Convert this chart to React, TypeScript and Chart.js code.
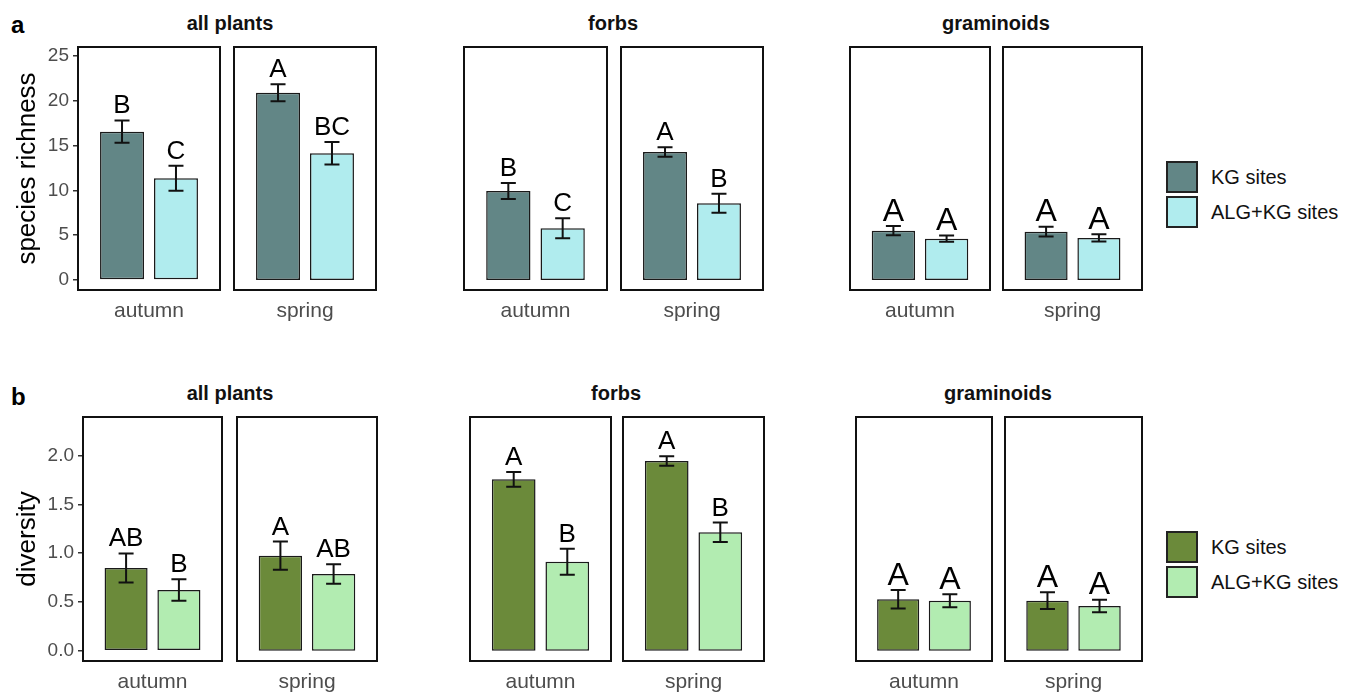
import React, { useEffect, useRef } from 'react';
import { Chart, registerables } from 'chart.js';

Chart.register(...registerables);
Chart.defaults.font.family = '"Liberation Sans", Arial, sans-serif';

// ---------------- data ----------------
const groups = ['all plants', 'forbs', 'graminoids'];
const seasons = ['autumn', 'spring'];
const siteTypes = ['KG sites', 'ALG+KG sites'];

// order: all-autumn, all-spring, forbs-autumn, forbs-spring, graminoids-autumn, graminoids-spring
const richnessKG = [16.55, 20.9, 9.93, 14.29, 5.5, 5.39];
const richnessKGse = [1.25, 0.95, 0.9, 0.53, 0.52, 0.54];
const richnessALG = [11.35, 14.15, 5.77, 8.56, 4.61, 4.69];
const richnessALGse = [1.4, 1.25, 1.12, 1.05, 0.35, 0.41];
const richnessKGLetters = ['B', 'A', 'B', 'A', 'A', 'A'];
const richnessALGLetters = ['C', 'BC', 'C', 'B', 'A', 'A'];
const richnessTicks = [0, 5, 10, 15, 20, 25];
const richnessTickLabels = ['0', '5', '10', '15', '20', '25'];

const diversityKG = [0.848, 0.974, 1.758, 1.946, 0.527, 0.513];
const diversityKGse = [0.15, 0.145, 0.076, 0.048, 0.095, 0.085];
const diversityALG = [0.623, 0.787, 0.913, 1.214, 0.513, 0.458];
const diversityALGse = [0.11, 0.1, 0.133, 0.1, 0.067, 0.065];
const diversityKGLetters = ['AB', 'A', 'A', 'A', 'A', 'A'];
const diversityALGLetters = ['B', 'AB', 'B', 'B', 'A', 'A'];
const diversityTicks = [0, 0.5, 1, 1.5, 2];
const diversityTickLabels = ['0.0', '0.5', '1.0', '1.5', '2.0'];

// ---------------- layout / style ----------------
const FONT = '"Liberation Sans", Arial, sans-serif';
const PAD = 4;
const XH = 45;

type RowCfg = {
  tag: string;
  tagY: number;
  yTitle: string;
  kg: number[]; kgSe: number[]; alg: number[]; algSe: number[];
  kgL: string[]; algL: string[];
  ticks: number[]; tickLabels: string[];
  min: number; max: number;
  top: number; bottom: number;
  boxes: number[][];
  titleY: number; titleX: number[];
  colors: string[];
  legendTop: number;
};

const rows: RowCfg[] = [
  {
    tag: 'a', tagY: 25, yTitle: 'species richness',
    kg: richnessKG, kgSe: richnessKGse, alg: richnessALG, algSe: richnessALGse,
    kgL: richnessKGLetters, algL: richnessALGLetters,
    ticks: richnessTicks, tickLabels: richnessTickLabels,
    min: -1.12, max: 26.0, top: 47, bottom: 290,
    boxes: [[78, 220], [234, 376], [464, 607], [621, 763], [850, 990], [1003, 1142]],
    titleY: 23, titleX: [230, 613, 996],
    colors: ['#628686', '#b0ecee'],
    legendTop: 161,
  },
  {
    tag: 'b', tagY: 397, yTitle: 'diversity',
    kg: diversityKG, kgSe: diversityKGse, alg: diversityALG, algSe: diversityALGse,
    kgL: diversityKGLetters, algL: diversityALGLetters,
    ticks: diversityTicks, tickLabels: diversityTickLabels,
    min: -0.106, max: 2.397, top: 417, bottom: 661,
    boxes: [[83, 222], [237, 377], [470, 611], [623, 764], [856, 992], [1005, 1142]],
    titleY: 393, titleX: [230, 616, 998],
    colors: ['#6b8a3a', '#b2ecb1'],
    legendTop: 531,
  },
];

const decorPlugin = {
  id: 'panelDecor',
  afterDatasetsDraw(chart: any, _args: any, opts: any) {
    const { ctx, chartArea, scales } = chart;
    const y = scales.y;
    ctx.save();
    chart.data.datasets.forEach((ds: any, di: number) => {
      const meta = chart.getDatasetMeta(di);
      meta.data.forEach((bar: any, j: number) => {
        const v = ds.data[j];
        const se = opts.se[di][j];
        const yT = y.getPixelForValue(v + se);
        const yB = y.getPixelForValue(v - se);
        const x = bar.x;
        ctx.strokeStyle = '#111';
        ctx.lineWidth = 2;
        ctx.beginPath();
        ctx.moveTo(x, yT); ctx.lineTo(x, yB);
        ctx.moveTo(x - 7.5, yT); ctx.lineTo(x + 7.5, yT);
        ctx.moveTo(x - 7.5, yB); ctx.lineTo(x + 7.5, yB);
        ctx.stroke();
        ctx.fillStyle = '#000';
        ctx.font = `${opts.letterSize}px ${FONT}`;
        ctx.textAlign = 'center';
        ctx.textBaseline = 'alphabetic';
        ctx.fillText(opts.letters[di][j], x, yT - opts.gap);
      });
    });
    ctx.strokeStyle = '#111';
    ctx.lineWidth = 2;
    ctx.strokeRect(chartArea.left, chartArea.top, chartArea.right - chartArea.left, chartArea.bottom - chartArea.top);
    ctx.restore();
  },
};

function zeroPad(s: any) {
  s.paddingTop = 0;
  s.paddingBottom = 0;
  s.paddingLeft = 0;
  s.paddingRight = 0;
}

function Panel({ row, i }: { row: RowCfg; i: number }) {
  const ref = useRef<HTMLCanvasElement | null>(null);
  const [x0, x1] = row.boxes[i];
  const first = i === 0;
  const left = first ? 0 : x0 - PAD;
  const top = row.top - PAD;
  const width = x1 + PAD - left;
  const height = row.bottom - row.top + PAD + XH;
  const isGram = i >= 4;

  useEffect(() => {
    if (!ref.current) return;
    const chart = new Chart(ref.current, {
      type: 'bar',
      data: {
        labels: [seasons[i % 2]],
        datasets: [
          {
            label: siteTypes[0], data: [row.kg[i]], backgroundColor: row.colors[0],
            borderColor: '#1a1a1a', borderWidth: 1.5, borderSkipped: false,
            categoryPercentage: 0.76, barPercentage: 0.815,
          },
          {
            label: siteTypes[1], data: [row.alg[i]], backgroundColor: row.colors[1],
            borderColor: '#1a1a1a', borderWidth: 1.5, borderSkipped: false,
            categoryPercentage: 0.76, barPercentage: 0.815,
          },
        ],
      },
      options: {
        responsive: false,
        animation: false,
        layout: { autoPadding: false, padding: { left: first ? 0 : PAD, top: PAD, right: PAD, bottom: 0 } },
        plugins: {
          legend: { display: false },
          tooltip: { enabled: false },
          panelDecor: {
            se: [[row.kgSe[i]], [row.algSe[i]]],
            letters: [[row.kgL[i]], [row.algL[i]]],
            letterSize: isGram ? 32 : 26,
            gap: isGram ? 5.5 : 7,
          },
        } as any,
        scales: {
          x: {
            type: 'category',
            grid: { display: false, drawTicks: false },
            border: { display: false },
            ticks: { font: { size: 21 }, color: '#4d4d4d', padding: 9, maxRotation: 0 },
            afterFit: (s: any) => { s.height = XH; zeroPad(s); },
          },
          y: {
            display: first,
            min: row.min,
            max: row.max,
            grid: { display: true, drawOnChartArea: false, drawTicks: true, tickLength: 5, color: '#333', lineWidth: 1.5 },
            border: { display: false },
            ticks: {
              font: { size: 19 }, color: '#4d4d4d', padding: 4,
              callback: (v: any) => {
                const k = row.ticks.findIndex((t) => Math.abs(t - Number(v)) < 1e-9);
                return k >= 0 ? row.tickLabels[k] : '';
              },
            },
            afterBuildTicks: (s: any) => { s.ticks = row.ticks.map((v) => ({ value: v })); },
            title: {
              display: true, text: row.yTitle, color: '#000',
              font: { size: 26 }, padding: { top: 12, bottom: 0 },
            },
            afterFit: (s: any) => { if (first) s.width = x0; zeroPad(s); },
          },
        },
      } as any,
      plugins: [decorPlugin as any],
    });
    return () => chart.destroy();
  }, []);

  return (
    <canvas
      ref={ref}
      width={width}
      height={height}
      style={{ position: 'absolute', left, top, width, height }}
    />
  );
}

function Legend({ row }: { row: RowCfg }) {
  return (
    <>
      {siteTypes.map((s, k) => (
        <React.Fragment key={s}>
          <div
            style={{
              position: 'absolute', left: 1166, top: row.legendTop + k * 35, width: 32, height: 32,
              boxSizing: 'border-box', border: '2px solid #222', background: row.colors[k],
            }}
          />
          <div
            style={{
              position: 'absolute', left: 1211, top: row.legendTop + k * 35 + 16, transform: 'translateY(-50%)',
              fontFamily: FONT, fontSize: 20, color: '#111', whiteSpace: 'nowrap',
            }}
          >
            {s}
          </div>
        </React.Fragment>
      ))}
    </>
  );
}

export default function App() {
  return (
    <div style={{ position: 'fixed', left: 0, top: 0, width: 1367, height: 693, background: '#fff', overflow: 'hidden' }}>
      {rows.map((row) => (
        <React.Fragment key={row.tag}>
          <div
            style={{
              position: 'absolute', left: 11, top: row.tagY, transform: 'translateY(-50%)',
              fontFamily: FONT, fontWeight: 'bold', fontSize: 24, color: '#000',
            }}
          >
            {row.tag}
          </div>
          {groups.map((g, gi) => (
            <div
              key={g}
              style={{
                position: 'absolute', left: row.titleX[gi], top: row.titleY, transform: 'translate(-50%, -50%)',
                fontFamily: FONT, fontWeight: 'bold', fontSize: 20, color: '#111', whiteSpace: 'nowrap',
              }}
            >
              {g}
            </div>
          ))}
          {row.boxes.map((_b, i) => (
            <Panel key={i} row={row} i={i} />
          ))}
          <Legend row={row} />
        </React.Fragment>
      ))}
    </div>
  );
}
